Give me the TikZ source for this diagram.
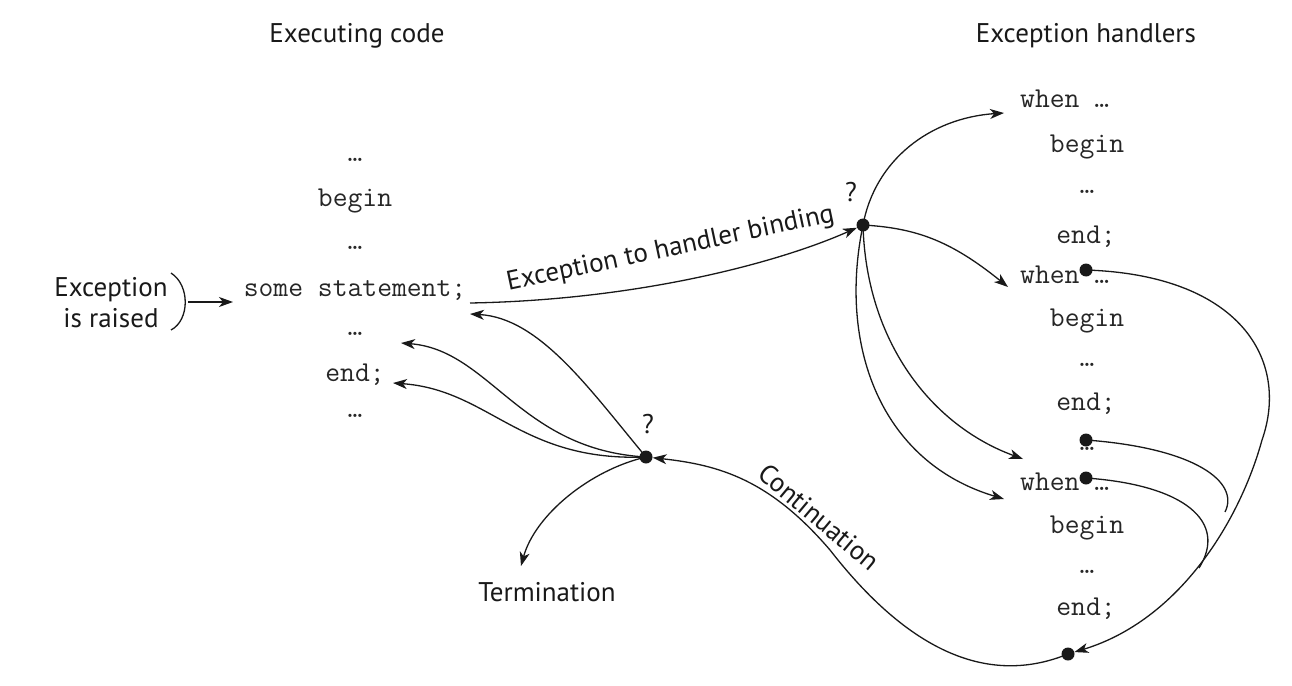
\documentclass[tikz,border=0pt]{standalone}
\usepackage{fontspec}
\setmainfont{PT Sans}
\usetikzlibrary{arrows.meta}
\begin{document}
\begin{tikzpicture}[x=1pt,y=-1pt,
  lbl/.style={font=\fontsize{27}{31}\selectfont, inner sep=0pt, anchor=base, text=black!90},
  code/.style={font=\fontsize{28.8}{30}\ttfamily, text=black!85, inner sep=0pt, anchor=base},
  hcode/.style={code, anchor=base west},
  dotn/.style={circle, fill=black!90, inner sep=0pt, minimum size=13pt},
  ln/.style={line width=1.3pt, draw=black!90},
  arr/.style={ln, -{Stealth[length=14pt,width=10pt,inset=4pt]}}]
\useasboundingbox (0,0) rectangle (1292,685);

% column headings
\node[lbl] (hexec) at (357,42) {Executing code};
\node[lbl] (hhand) at (1086,42) {Exception handlers};

% executing code
\node[code] (l1) at (355,161) {…};
\node[code] (l2) at (355,206) {begin};
\node[code] (l3) at (355,249) {…};
\node[code] (stmt) at (355,296) {some statement;};
\node[code] (l5) at (355,335) {…};
\node[code] (l6) at (355,381) {end;};
\node[code] (l7) at (355,417) {…};

% raised exception
\node[lbl, align=center, anchor=center] (raised) at (111,303) {Exception\\is raised};
\draw[ln] (171,273) .. controls (190,285) and (190,320) .. (171,330);
\coordinate (rfrom) at (188,302);
\coordinate (rto) at (233,302);
\draw[arr] (rfrom) -- (rto);

% handlers
\node[hcode] (w1) at (1020,107) {when …};
\node[code] (b1) at (1087,152) {begin};
\node[code] (e1) at (1087,193) {…};
\node[code] (n1) at (1086,243) {end;};
\node[hcode] (w2) at (1020,283) {when …};
\node[code] (b2) at (1087,326) {begin};
\node[code] (e2) at (1087,366) {…};
\node[code] (n2) at (1086,410) {end;};
\node[code] (e3) at (1087,450) {…};
\node[hcode] (w3) at (1020,490) {when …};
\node[code] (b3) at (1087,533) {begin};
\node[code] (e4) at (1087,573) {…};
\node[code] (n3) at (1086,615) {end;};

% decision points
\node[dotn] (bdot) at (863,225) {};
\node[lbl] (bq) at (851,201) {?};
\node[dotn] (tdot) at (646,457) {};
\node[lbl] (tq) at (648,433) {?};
\node[dotn] (hd1) at (1086,270) {};
\node[dotn] (hd2) at (1086,440) {};
\node[dotn] (hd3) at (1086,478) {};
\node[dotn] (cdot) at (1068,654) {};

% binding
\coordinate (sfrom) at (470,303);
\draw[arr] (sfrom) .. controls (640,300) and (780,262) .. (bdot);
\node[lbl, rotate=12] (bind) at (672,256) {Exception to handler binding};

\coordinate (a1) at (1004,113);
\coordinate (a2) at (1008,287);
\coordinate (a3) at (1023,459);
\coordinate (a4) at (1004,499);
\draw[arr] (bdot.center) .. controls (875,160) and (930,118) .. (a1);
\draw[arr] (bdot.center) .. controls (915,228) and (950,240) .. (a2);
\draw[arr] (bdot.center) .. controls (866,340) and (930,425) .. (a3);
\draw[arr] (bdot.center) .. controls (838,345) and (880,462) .. (a4);

% return from the handlers
\coordinate (m1) at (1262,440);
\coordinate (j1) at (1225,512);
\coordinate (j2) at (1199,568);
\draw[arr] (hd1.center) .. controls (1240,275) and (1290,360) .. (m1)
  .. controls (1240,520) and (1180,620) .. (cdot);
\draw[ln] (hd2.center) .. controls (1195,448) and (1240,482) .. (j1);
\draw[ln] (hd3.center) .. controls (1185,485) and (1228,522) .. (j2);

% continuation
\coordinate (cmid) at (830,550);
\draw[arr] (cdot.center) .. controls (980,690) and (900,640) .. (cmid)
  .. controls (770,480) and (720,465) .. (tdot);
\node[lbl, rotate=-40, anchor=center] (cont) at (819,517) {Continuation};

% after continuation
\coordinate (r1) at (470,314);
\coordinate (r2) at (401,343);
\coordinate (r3) at (393,383);
\coordinate (r4) at (521,566);
\draw[arr] (tdot.center) .. controls (590,390) and (540,318) .. (r1);
\draw[arr] (tdot.center) .. controls (520,450) and (490,350) .. (r2);
\draw[arr] (tdot.center) .. controls (520,462) and (490,390) .. (r3);
\draw[arr] (tdot.center) .. controls (590,470) and (535,515) .. (r4);
\node[lbl] (term) at (547,601) {Termination};

\end{tikzpicture}
\end{document}
